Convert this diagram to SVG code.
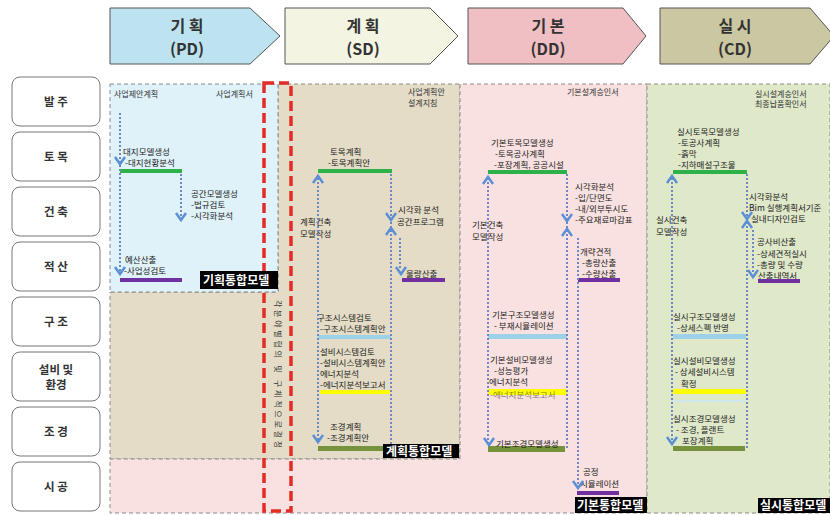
<svg xmlns="http://www.w3.org/2000/svg" xmlns:xlink="http://www.w3.org/1999/xlink" width="830" height="515" viewBox="0 0 830 515">
<style>
.ph{stroke:#555;stroke-width:1}
.pht{font-family:"Noto Sans CJK KR","Noto Sans",sans-serif;font-size:16px;font-weight:bold;fill:#333;text-anchor:middle}
.rl{fill:#fff;stroke:#777;stroke-width:1}
.rlt{font-family:"Noto Sans CJK KR","Noto Sans",sans-serif;font-size:11.5px;font-weight:bold;fill:#333;text-anchor:middle}
.reg{stroke:#8a8a8a;stroke-width:1;stroke-dasharray:4 3}
.t{font-family:"Noto Sans CJK KR","Noto Sans",sans-serif;font-size:8.5px;fill:#222}
.s{font-family:"Noto Sans CJK KR","Noto Sans",sans-serif;font-size:8px;fill:#333}
.lab{font-family:"Noto Sans CJK KR","Noto Sans",sans-serif;font-size:12px;font-weight:bold;fill:#fff}
.dot{stroke:#6f88c4;stroke-width:2;stroke-dasharray:2 2;fill:none}
.ah{stroke:#5b90d6;stroke-width:2.5;fill:none;stroke-linejoin:miter}
.g{fill:#2db24a}.p{fill:#7030a0}.b{fill:#9dd1e8}.y{fill:#ffff00}.o{fill:#77923c}
</style>
<defs>
<path id="vd" class="ah" d="M-5,-7 L0,0 L5,-7"/>
<path id="vu" class="ah" d="M-5,7 L0,0 L5,7"/>
</defs>
<rect width="830" height="515" fill="#fff"/>

<!-- phase headers -->
<g id="phase-pd"><polygon class="ph" points="110,8 250,8 280,36 250,64 110,64" fill="#bde3f0"/><text class="pht" x="187" y="32">기 획</text><text class="pht" x="187" y="55">(PD)</text></g>
<g id="phase-sd"><polygon class="ph" points="285,8 430,8 458,36 430,64 285,64" fill="#f3f5e2"/><text class="pht" x="363" y="32">계 획</text><text class="pht" x="363" y="55">(SD)</text></g>
<g id="phase-dd"><polygon class="ph" points="468,8 623,8 646,36 623,64 468,64" fill="#efbfc3"/><text class="pht" x="548" y="32">기 본</text><text class="pht" x="548" y="55">(DD)</text></g>
<g id="phase-cd"><polygon class="ph" points="660,8 810,8 834,36 810,64 660,64" fill="#cbc7a2"/><text class="pht" x="735" y="32">실 시</text><text class="pht" x="735" y="55">(CD)</text></g>

<!-- row labels -->
<g id="row-owner"><rect class="rl" x="12" y="77" width="88" height="49" rx="8"/><text class="rlt" x="56" y="106">발 주</text></g>
<g id="row-civil"><rect class="rl" x="12" y="132" width="88" height="49" rx="8"/><text class="rlt" x="56" y="161">토 목</text></g>
<g id="row-arch"><rect class="rl" x="12" y="187" width="88" height="49" rx="8"/><text class="rlt" x="56" y="216">건 축</text></g>
<g id="row-cost"><rect class="rl" x="12" y="242" width="88" height="49" rx="8"/><text class="rlt" x="56" y="271">적 산</text></g>
<g id="row-struct"><rect class="rl" x="12" y="297" width="88" height="49" rx="8"/><text class="rlt" x="56" y="326">구 조</text></g>
<g id="row-mep"><rect class="rl" x="12" y="352" width="88" height="49" rx="8"/><text class="rlt" x="56" y="374">설비 및</text><text class="rlt" x="56" y="389">환경</text></g>
<g id="row-land"><rect class="rl" x="12" y="407" width="88" height="49" rx="8"/><text class="rlt" x="56" y="436">조 경</text></g>
<g id="row-const"><rect class="rl" x="12" y="462" width="88" height="49" rx="8"/><text class="rlt" x="56" y="491">시 공</text></g>

<!-- background regions -->
<g id="regions">
<path class="reg" d="M110,292 H278 V84 H460 V459 H110 Z" fill="#e4dcc6"/>
<rect class="reg" x="110" y="84" width="168" height="208" fill="#dff1f9"/>
<path class="reg" d="M110,459 H460 V84 H647 V513 H110 Z" fill="#f9e1e1"/>
<rect class="reg" x="647" y="84" width="183" height="429" fill="#dfe8c9"/>
</g>

<!-- red dashed coordination zone -->
<g id="coordination">
<rect x="264" y="83" width="27" height="428" fill="none" stroke="#e52b25" stroke-width="3.5" stroke-dasharray="10 5"/>
<text class="s" transform="translate(275,300) rotate(90)" textLength="148" lengthAdjust="spacing">각분야별협의  및  구체적으로결정</text>
</g>

<!-- PD nodes -->
<g id="pd-docs"><text class="s" x="114" y="97">사업제안계획</text><text class="s" x="216" y="97">사업계획서</text></g>
<g id="pd-site"><text class="t" x="123" y="155">대지모델생성</text><text class="t" x="125" y="166">-대지현황분석</text><rect class="g" x="120" y="169" width="62" height="4"/></g>
<g id="pd-space"><text class="t" x="191" y="197">공간모델생성</text><text class="t" x="191" y="208">-법규검토</text><text class="t" x="191" y="219">-시각화분석</text></g>
<g id="pd-budget"><text class="t" x="125" y="263">예산산출</text><text class="t" x="124" y="274">-사업성검토</text><rect class="p" x="120" y="278" width="62" height="4"/></g>
<g id="pd-model"><rect x="200" y="271" width="78" height="18" fill="#000"/><text class="lab" x="203" y="285">기획통합모델</text></g>

<!-- SD nodes -->
<g id="sd-docs"><text class="s" x="408" y="95">사업계획안</text><text class="s" x="408" y="106">설계지침</text></g>
<g id="sd-civil"><text class="t" x="330" y="155">토목계획</text><text class="t" x="328" y="166">-토목계획안</text><rect class="g" x="318" y="169" width="74" height="4"/></g>
<g id="sd-arch"><text class="t" x="300" y="225">계획건축</text><text class="t" x="300" y="237">모델작성</text></g>
<g id="sd-vis"><text class="t" x="398" y="213">시각화 분석</text><text class="t" x="397" y="225">공간프로그램</text></g>
<g id="sd-cost"><text class="t" x="406" y="277">물량산출</text><rect class="p" x="402" y="278" width="43" height="4"/></g>
<g id="sd-struct"><text class="t" x="317" y="321">구조시스템검토</text><text class="t" x="320" y="332">-구조시스템계획안</text><rect class="b" x="318" y="335" width="73" height="4"/></g>
<g id="sd-mep"><text class="t" x="320" y="355">설비시스템검토</text><text class="t" x="320" y="366">-설비시스템계획안</text><text class="t" x="320" y="377">에너지분석</text><text class="t" x="320" y="388">-에너지분석보고서</text><rect class="y" x="320" y="390" width="70" height="4"/></g>
<g id="sd-land"><text class="t" x="330" y="430">조경계획</text><text class="t" x="327" y="441">-조경계획안</text><rect class="o" x="318" y="446" width="66" height="5"/></g>
<g id="sd-model"><rect x="383" y="444" width="76" height="14" fill="#000"/><text class="lab" x="386" y="456">계획통합모델</text></g>

<!-- DD nodes -->
<g id="dd-docs"><text class="s" x="567" y="95">기본설계승인서</text></g>
<g id="dd-civil"><text class="t" x="491" y="146">기본토목모델생성</text><text class="t" x="495" y="157">-토목공사계획</text><text class="t" x="494" y="168">-포장계획, 공공시설</text><rect class="g" x="488" y="170" width="79" height="4"/></g>
<g id="dd-arch"><text class="t" x="472" y="228">기본건축</text><text class="t" x="472" y="240">모델작성</text></g>
<g id="dd-vis"><text class="t" x="575" y="190">시각화분석</text><text class="t" x="575" y="201">-입/단면도</text><text class="t" x="575" y="212">-내/외부투시도</text><text class="t" x="575" y="223">-주요재료마감표</text></g>
<g id="dd-cost"><text class="t" x="580" y="255">개략견적</text><text class="t" x="582" y="266">-총량산출</text><text class="t" x="582" y="277">-수량산출</text><rect class="p" x="578" y="278" width="42" height="4"/></g>
<g id="dd-struct"><text class="t" x="492" y="318">기본구조모델생성</text><text class="t" x="494" y="329">- 부재시뮬레이션</text><rect class="b" x="488" y="334" width="79" height="5"/></g>
<g id="dd-mep"><rect class="y" x="488" y="389" width="79" height="6"/><text class="t" x="490" y="363">기본설비모델생성</text><text class="t" x="494" y="374">-성능평가</text><text class="t" x="489" y="385">에너지분석</text><text class="t" x="490" y="398" opacity="0.55">-에너지분석보고서</text></g>
<g id="dd-land"><rect class="o" x="488" y="446" width="77" height="6"/><text class="t" x="496" y="447">기본조경모델생성</text></g>
<g id="dd-const"><text class="t" x="583" y="475">공정</text><text class="t" x="580" y="487">시뮬레이션</text><rect class="p" x="577" y="491" width="42" height="4"/></g>
<g id="dd-model"><rect x="575" y="497" width="72" height="16" fill="#000"/><text class="lab" x="577" y="510">기본통합모델</text></g>

<!-- CD nodes -->
<g id="cd-docs"><text class="s" x="755" y="97">실시설계승인서</text><text class="s" x="755" y="107">최종납품확인서</text></g>
<g id="cd-civil"><text class="t" x="677" y="135">실시토목모델생성</text><text class="t" x="678" y="146">-토공사계획</text><text class="t" x="678" y="157">-흙막</text><text class="t" x="678" y="168">-지하매설구조물</text><rect class="g" x="673" y="170" width="74" height="4"/></g>
<g id="cd-arch"><text class="t" x="656" y="223">실시건축</text><text class="t" x="656" y="235">모델작성</text></g>
<g id="cd-vis"><text class="t" x="749" y="200">시각화분석</text><text class="t" x="749" y="211">Bim 실행계획서기준</text><text class="t" x="751" y="222">실내디자인검토</text></g>
<g id="cd-cost"><text class="t" x="757" y="245">공사비산출</text><text class="t" x="757" y="257">-상세견적실시</text><text class="t" x="757" y="268">-총량 및 수량</text><text class="t" x="758" y="279">산출내역서</text><rect class="p" x="758" y="279" width="42" height="4"/></g>
<g id="cd-struct"><text class="t" x="673" y="320">실시구조모델생성</text><text class="t" x="677" y="331">-상세스펙 반영</text><rect class="b" x="673" y="334" width="73" height="5"/></g>
<g id="cd-mep"><text class="t" x="673" y="364">실시설비모델생성</text><text class="t" x="675" y="375">- 상세설비시스템</text><text class="t" x="681" y="387">확정</text><rect class="y" x="673" y="389" width="73" height="5"/><rect x="673" y="400" width="73" height="2" fill="#cfe6ef"/></g>
<g id="cd-land"><text class="t" x="673" y="422">실시조경모델생성</text><text class="t" x="676" y="433">- 조경, 플랜트</text><text class="t" x="682" y="444">포장계획</text><rect class="o" x="673" y="446" width="72" height="5"/></g>
<g id="cd-model"><rect x="758" y="498" width="72" height="15" fill="#000"/><text class="lab" x="760" y="510">실시통합모델</text></g>

<!-- connectors -->
<g id="connectors">
<line class="dot" x1="120" y1="113" x2="120" y2="272"/>
<use href="#vd" x="120" y="164"/>
<use href="#vd" x="120" y="274"/>
<line class="dot" x1="181" y1="174" x2="181" y2="218"/>
<use href="#vd" x="181" y="220"/>
<line class="dot" x1="318" y1="178" x2="318" y2="441"/>
<use href="#vu" x="318" y="176"/>
<use href="#vd" x="318" y="442"/>
<line class="dot" x1="391" y1="174" x2="391" y2="447"/>
<use href="#vd" x="391" y="220"/>
<use href="#vu" x="391" y="228"/>
<line class="dot" x1="400" y1="238" x2="400" y2="270"/>
<use href="#vd" x="401" y="274"/>
<line class="dot" x1="488" y1="178" x2="488" y2="443"/>
<use href="#vu" x="488" y="177"/>
<use href="#vd" x="489" y="445"/>
<line class="dot" x1="567" y1="174" x2="567" y2="448"/>
<use href="#vd" x="567" y="221"/>
<use href="#vu" x="567" y="229"/>
<line class="dot" x1="578" y1="238" x2="578" y2="484"/>
<use href="#vd" x="578" y="488"/>
<line class="dot" x1="672" y1="178" x2="672" y2="442"/>
<use href="#vu" x="672" y="176"/>
<use href="#vd" x="672" y="444"/>
<line class="dot" x1="747" y1="174" x2="747" y2="448"/>
<use href="#vd" x="747" y="219"/>
<use href="#vu" x="747" y="221"/>
<line class="dot" x1="753" y1="230" x2="753" y2="272"/>
<use href="#vd" x="753" y="277"/>
</g>
</svg>
